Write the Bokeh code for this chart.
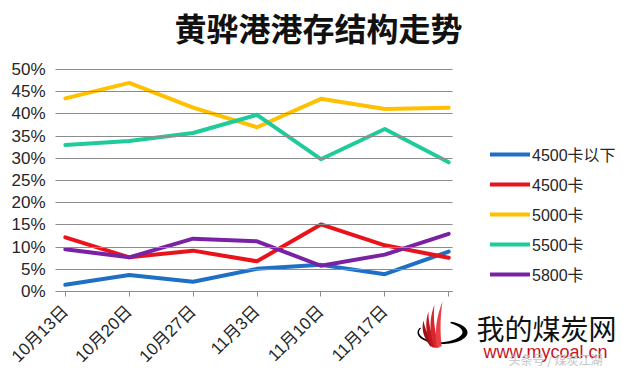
import numpy as np
from bokeh.plotting import figure
from bokeh.models import (FixedTicker, Legend, LegendItem, Label, PolyAnnotation, Range1d)
from bokeh.embed import file_html
from bokeh.resources import INLINE

# ---- data ----
dates = ["10月13日", "10月20日", "10月27日", "11月3日", "11月10日", "11月17日", "11月24日"]
shown_labels = ["10月13日", "10月20日", "10月27日", "11月3日", "11月10日", "11月17日", ""]
series_names = ["4500卡以下", "4500卡", "5000卡", "5500卡", "5800卡"]
s_below4500 = [1.5, 3.7, 2.2, 5.1, 6.0, 3.9, 9.0]
s_4500 = [12.2, 7.7, 9.2, 6.8, 15.1, 10.4, 7.6]
s_5000 = [43.5, 47.0, 41.4, 37.0, 43.4, 41.1, 41.4]
s_5500 = [33.0, 33.9, 35.7, 39.8, 29.8, 36.6, 29.1]
s_5800 = [9.5, 7.7, 11.9, 11.3, 5.8, 8.3, 13.0]
y_ticks = [0, 5, 10, 15, 20, 25, 30, 35, 40, 45, 50]
y_tick_labels = ["0%", "5%", "10%", "15%", "20%", "25%", "30%", "35%", "40%", "45%", "50%"]
title_text = "黄骅港港存结构走势"

colors = ["#1F6FC4", "#E8131B", "#FFC000", "#1FCB9B", "#7A22A4"]
series = [s_below4500, s_4500, s_5000, s_5500, s_5800]

W, H = 627, 370
# plot-area placement (screen px) and its data extent
FL, FR, FT, FB = 61, 452, 69, 291
X0, X1 = -0.06, 6.06
Y0, Y1 = 0, 50
PX = (FR - FL) / (X1 - X0)
PY = (FB - FT) / (Y1 - Y0)

def sx2d(sx):
    return X0 + (sx - FL) / PX

def sy2d(sy):
    return Y0 + (FB - sy) / PY

FONT = "Liberation Sans, Noto Sans CJK SC"

p = figure(width=W, height=H, output_backend="svg", toolbar_location=None,
           x_range=Range1d(sx2d(0), sx2d(W)), y_range=Range1d(sy2d(H), sy2d(0)),
           min_border=0, min_border_left=0, min_border_right=0,
           min_border_top=0, min_border_bottom=0)
p.title = None
p.outline_line_color = None
p.background_fill_color = "white"
p.border_fill_color = "white"
p.xgrid.visible = False
p.ygrid.visible = False

x = list(range(len(dates)))
renderers = []
for s, c in zip(series, colors):
    r = p.line(x, s, line_color=c, line_width=4, line_join="round", line_cap="round")
    renderers.append(r)

# x axis pinned at 0%
xa = p.xaxis[0]
xa.fixed_location = Y0
xa.bounds = (X0, X1)
xa.ticker = FixedTicker(ticks=x)
xa.major_label_overrides = {i: lab for i, lab in enumerate(shown_labels)}
xa.major_label_orientation = np.pi / 4
xa.major_label_text_font = FONT
xa.major_label_text_font_size = "17px"
xa.major_label_text_color = "#262626"
xa.major_label_standoff = 12
xa.axis_line_color = "#8c8c8c"
xa.major_tick_line_color = "#8c8c8c"
xa.major_tick_out = 5
xa.major_tick_in = 0
xa.minor_tick_line_color = None

# y axis pinned at the left edge of the plot area; its ticks run across as gridlines
ya = p.yaxis[0]
ya.fixed_location = X0
ya.bounds = (Y0, Y1)
ya.ticker = FixedTicker(ticks=y_ticks)
ya.major_label_overrides = {t: l for t, l in zip(y_ticks, y_tick_labels)}
ya.major_label_text_font = FONT
ya.major_label_text_font_size = "17px"
ya.major_label_text_color = "#262626"
ya.major_label_standoff = 10
ya.axis_line_color = None
ya.major_tick_line_color = "#8c8c8c"
ya.major_tick_out = 6
ya.major_tick_in = FR - FL
ya.minor_tick_line_color = None

legend = Legend(items=[LegendItem(label=n, renderers=[r]) for n, r in zip(series_names, renderers)],
                location=(490, H - 286), orientation="vertical",
                label_text_font=FONT, label_text_font_size="16px", label_text_color="#262626",
                glyph_width=40, glyph_height=20, label_height=20, spacing=6,
                padding=0, margin=0, label_standoff=2,
                border_line_color=None, background_fill_alpha=0)
p.add_layout(legend, "center")

# title
p.add_layout(Label(x=sx2d(318), y=sy2d(26), text=title_text, text_align="center",
                   text_baseline="middle", text_font="Noto Sans CJK SC",
                   text_font_size="32px", text_font_style="bold", text_color="#111111"))

# watermark / logo
p.add_layout(Label(x=sx2d(476), y=sy2d(327), text="我的煤炭网", text_align="left",
                   text_baseline="middle", text_font="Noto Sans CJK SC",
                   text_font_size="28px", text_color="#111111"))
p.add_layout(Label(x=sx2d(483), y=sy2d(351), text="www.mycoal.cn", text_align="left",
                   text_baseline="alphabetic", text_font="Liberation Sans",
                   text_font_size="18px", text_color="#C8141E"))
p.add_layout(Label(x=sx2d(508), y=sy2d(359), text="头条号 / 煤炭江湖", text_align="left",
                   text_baseline="middle", text_font="Noto Sans CJK SC",
                   text_font_size="12px", text_color="#c4c4c4"))

# black swoosh ring, open at the top-left where the flame rises
cx, cy, erx, ery = 442, 332, 25, 11.5
th = np.linspace(np.radians(70), np.radians(-205), 70)
outer_x = cx + erx * np.cos(th); outer_y = cy - ery * np.sin(th)
thick = 1.5 + 3.5 * np.clip(np.cos(th), 0, None) + 1.5 * np.clip(-np.sin(th), 0, None)
inner_x = cx + (erx - thick) * np.cos(th); inner_y = cy - (ery - thick * 0.6) * np.sin(th)
ring_x = np.concatenate([outer_x, inner_x[::-1]]); ring_y = np.concatenate([outer_y, inner_y[::-1]])
p.add_layout(PolyAnnotation(xs=[sx2d(v) for v in ring_x], ys=[sy2d(v) for v in ring_y],
                            fill_color="black", fill_alpha=1, line_color=None))

def tongue(bx, by, tx, ty, bulge, width):
    t = np.linspace(0, 1, 25)
    mx, my = (bx + tx) / 2 + bulge, (by + ty) / 2
    lx = (1 - t) ** 2 * (bx - width) + 2 * (1 - t) * t * (mx - width) + t ** 2 * tx
    ly = (1 - t) ** 2 * by + 2 * (1 - t) * t * my + t ** 2 * ty
    rxx = (1 - t) ** 2 * tx + 2 * (1 - t) * t * (mx + width * 0.4) + t ** 2 * (bx + width * 0.3)
    ryy = (1 - t) ** 2 * ty + 2 * (1 - t) * t * my + t ** 2 * by
    return np.concatenate([lx, rxx]), np.concatenate([ly, ryy])

for (bx, by, tx, ty, bul, wd, col) in [(434, 346, 423, 320, -5, 4, "#9E1016"),
                                       (436, 347, 428, 311, -6, 4, "#C0171F"),
                                       (438, 347, 434, 304, -6, 4, "#D8262D"),
                                       (440, 346, 442, 301, -4, 4, "#E84047")]:
    fx, fy = tongue(bx, by, tx, ty, bul, wd)
    p.add_layout(PolyAnnotation(xs=[sx2d(v) for v in fx], ys=[sy2d(v) for v in fy],
                                fill_color=col, fill_alpha=1, line_color=None))

open("out.html", "w").write(file_html(p, INLINE))
